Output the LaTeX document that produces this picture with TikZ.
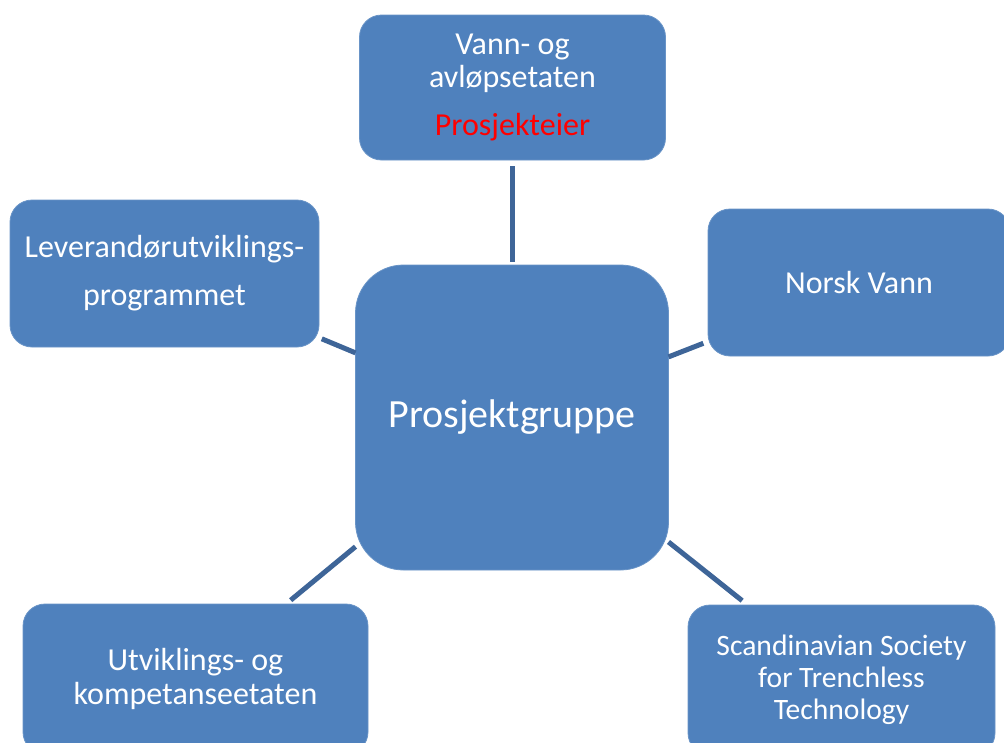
\documentclass[tikz,border=0pt]{standalone}
\usepackage{fontspec}
\setmainfont{Carlito}
\definecolor{boxblue}{HTML}{4F81BD}
\definecolor{linkblue}{HTML}{3E6598}
\begin{document}
\begin{tikzpicture}[x=1pt,y=-1pt,
  box/.style={rectangle, rounded corners=22pt, fill=boxblue, draw=boxblue!85!white,
    line width=0.8pt, text=white, align=center, inner sep=0pt, outer sep=0pt},
  conn/.style={draw=linkblue, line width=5pt}]
\useasboundingbox (0,0) rectangle (1004,742);
\clip (0,0) rectangle (1004,742);
\node[box, minimum width=306pt, minimum height=145pt, font=\fontsize{32}{33}\selectfont] (top) at (512.5,87.5)
  {Vann- og\\avløpsetaten\\[15pt]\textcolor{red}{Prosjekteier}};
\node[box, minimum width=309pt, minimum height=147pt, font=\fontsize{32}{48}\selectfont] (left) at (164.5,273.5)
  {Leverandørutviklings-\\programmet};
\node[box, minimum width=302pt, minimum height=147pt, font=\fontsize{32}{33}\selectfont] (right) at (859,282.5)
  {Norsk Vann};
\node[box, rounded corners=48pt, minimum width=313pt, minimum height=305pt, font=\fontsize{40}{48}\selectfont] (center) at (512,417.5)
  {Prosjektgruppe};
\node[box, minimum width=345pt, minimum height=150pt, font=\fontsize{32}{34}\selectfont] (bl) at (195.5,679)
  {Utviklings- og\\kompetanseetaten};
\node[box, minimum width=307pt, minimum height=150pt, font=\fontsize{29.6}{32}\selectfont] (br) at (841.5,680)
  {Scandinavian Society\\for Trenchless\\Technology};
\draw[conn, shorten <=6pt, shorten >=3pt] (top.south) -- (top.south |- center.north);
\draw[conn, shorten <=3pt] (left) -- (center);
\draw[conn, shorten <=5pt] (right) -- (center);
\draw[conn, shorten >=6pt] (center) -- (bl);
\draw[conn, shorten >=7pt] (center) -- (br);
\end{tikzpicture}
\end{document}
